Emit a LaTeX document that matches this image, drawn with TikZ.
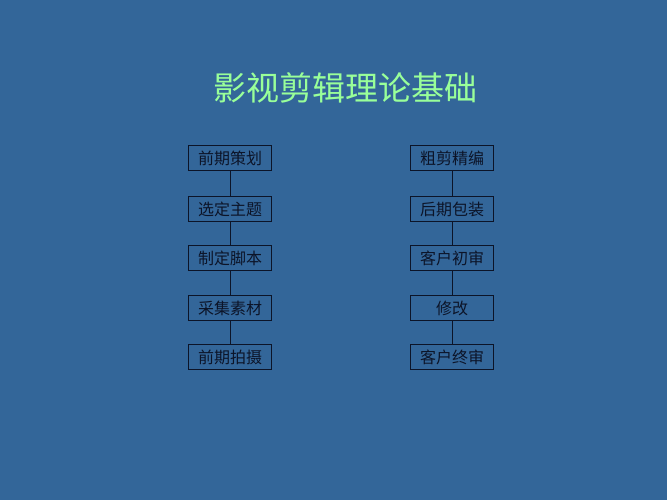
\documentclass[tikz,border=0pt]{standalone}
\usepackage{fontspec}
\newfontfamily\cjk{Noto Sans CJK SC}
\usetikzlibrary{positioning}
\definecolor{slidebg}{RGB}{51,102,153}
\definecolor{titlegreen}{RGB}{153,255,153}
\definecolor{boxline}{RGB}{12,20,40}
\tikzset{
  stepbox/.style={draw=boxline, line width=1pt, minimum width=83pt, minimum height=25pt,
    inner sep=0pt, font=\cjk\fontsize{16pt}{16pt}\selectfont, text=boxline},
  link/.style={draw=boxline, line width=1pt}
}
\begin{document}
\begin{tikzpicture}[x=1pt,y=-1pt]
\fill[slidebg] (0,0) rectangle (667,500);
\useasboundingbox (0,0) rectangle (667,500);
\node[text=titlegreen, font=\cjk\fontsize{33pt}{33pt}\selectfont] (title) at (345,88) {影视剪辑理论基础};
% left column
\node[stepbox] (l1) at (230,158) {前期策划};
\node[stepbox] (l2) at (230,209) {选定主题};
\node[stepbox] (l3) at (230,258) {制定脚本};
\node[stepbox] (l4) at (230,308) {采集素材};
\node[stepbox] (l5) at (230,357) {前期拍摄};
% right column
\node[stepbox] (r1) at (452,158) {粗剪精编};
\node[stepbox] (r2) at (452,209) {后期包装};
\node[stepbox] (r3) at (452,258) {客户初审};
\node[stepbox] (r4) at (452,308) {修改};
\node[stepbox] (r5) at (452,357) {客户终审};
\foreach \a/\b in {1/2,2/3,3/4,4/5} {
  \draw[link] (l\a) -- (l\b);
  \draw[link] (r\a) -- (r\b);
}
\end{tikzpicture}
\end{document}
